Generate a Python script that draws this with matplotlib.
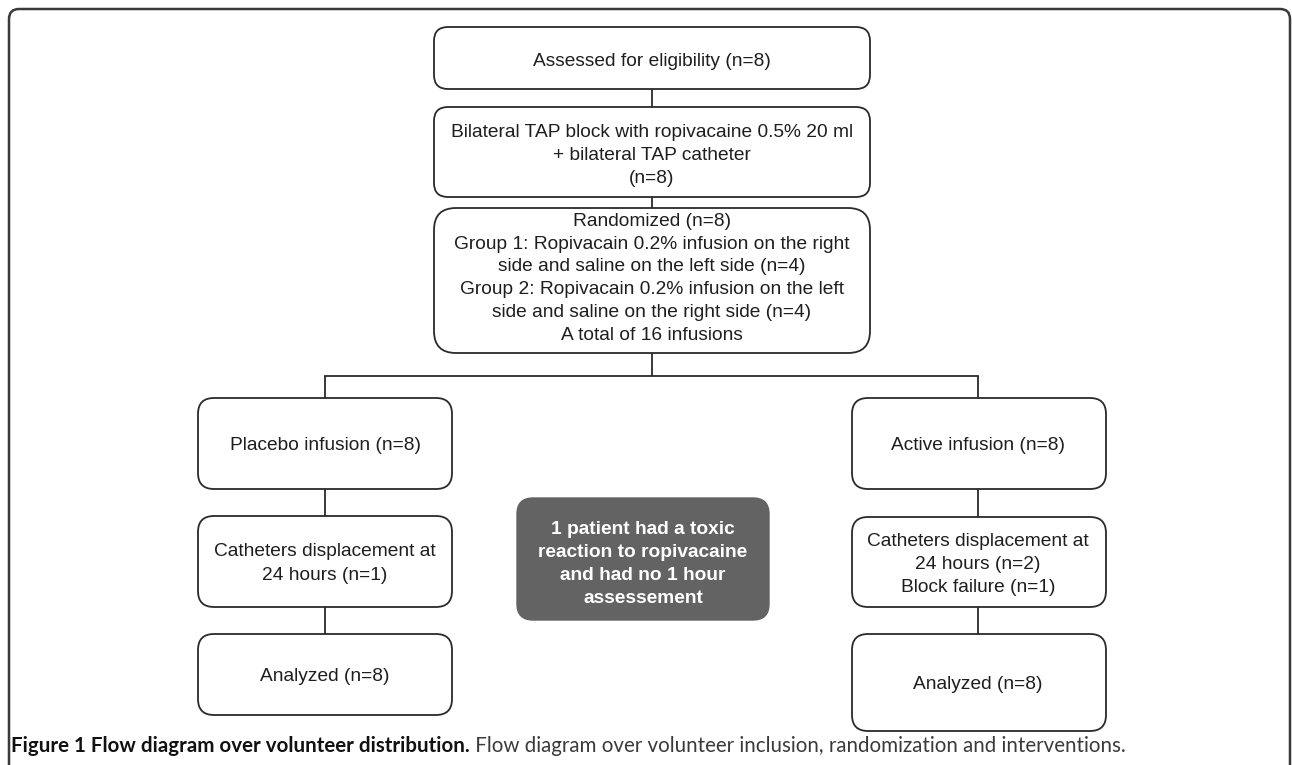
import matplotlib
matplotlib.use("Agg")
import matplotlib.pyplot as plt
from matplotlib.patches import FancyBboxPatch

# ---- content ----
box_top = ["Assessed for eligibility (n=8)"]
box_tap = ["Bilateral TAP block with ropivacaine 0.5% 20 ml", "+ bilateral TAP catheter", "(n=8)"]
box_rand = ["Randomized (n=8)",
            "Group 1: Ropivacain 0.2% infusion on the right",
            "side and saline on the left side (n=4)",
            "Group 2: Ropivacain 0.2% infusion on the left",
            "side and saline on the right side (n=4)",
            "A total of 16 infusions"]
left_texts = [["Placebo infusion (n=8)"],
              ["Catheters displacement at", "24 hours (n=1)"],
              ["Analyzed (n=8)"]]
right_texts = [["Active infusion (n=8)"],
               ["Catheters displacement at", "24 hours (n=2)", "Block failure (n=1)"],
               ["Analyzed (n=8)"]]
note_text = ["1 patient had a toxic", "reaction to ropivacaine", "and had no 1 hour", "assessement"]
caption_bold = "Figure 1 Flow diagram over volunteer distribution."
caption_regular = " Flow diagram over volunteer inclusion, randomization and interventions."

# ---- layout (pixels, y downward) ----
W, H = 1292, 765
fig = plt.figure(figsize=(W / 100, H / 100), dpi=100)
ax = fig.add_axes([0, 0, 1, 1])
ax.set_xlim(0, W)
ax.set_ylim(H, 0)
ax.axis("off")

EC = "#2a2a2a"
TC = "#1e1e1e"
FS = 13.75
FPX = FS * 100 / 72
FONT = "Liberation Sans"
LS = 22.8


def rbox(x0, y0, x1, y1, r=14, fc="white", ec=EC, lw=1.3):
    p = FancyBboxPatch((x0, y0), x1 - x0, y1 - y0,
                       boxstyle=f"round,pad=0,rounding_size={r}",
                       fc=fc, ec=ec, lw=lw, zorder=2)
    ax.add_patch(p)


def mtext(x, yc, lines, spacing=LS, **kw):
    d = dict(ha="center", va="baseline", fontsize=FS, color=TC, family=FONT, zorder=3)
    d.update(kw)
    n = len(lines)
    cap = 0.716 * FPX / 2
    for i, s in enumerate(lines):
        ax.text(x, yc + (i - (n - 1) / 2) * spacing + cap, s, **d)


def vline(x, y0, y1):
    ax.plot([x, x], [y0, y1], color=EC, lw=1.3, zorder=1, solid_capstyle="butt")


# outer frame (bottom open, off canvas)
ax.add_patch(FancyBboxPatch((9, 9), 1281, 900, boxstyle="round,pad=0,rounding_size=10",
                            fc="none", ec="#3a3a3a", lw=1.8, zorder=1, clip_on=False))

cx = 652
rbox(434, 27, 870, 89)
mtext(cx, 59, box_top)
vline(cx, 89, 107)
rbox(434, 107, 870, 197)
mtext(cx, 153, box_tap)
vline(cx, 197, 208)
rbox(434, 208, 870, 353, r=22)
mtext(cx, 276, box_rand)
vline(cx, 353, 376)

lx, rx = 325, 978
ax.plot([lx, rx], [376, 376], color=EC, lw=1.3, zorder=1)
vline(lx, 376, 398)
vline(rx, 376, 398)

left_rows = [(398, 489), (516, 607), (634, 715)]
right_rows = [(398, 489), (517, 607), (634, 731)]
for (y0, y1), s in zip(left_rows, left_texts):
    rbox(198, y0, 452, y1, r=16)
    mtext(lx, (y0 + y1) / 2, s, spacing=24)
for (y0, y1), s in zip(right_rows, right_texts):
    rbox(852, y0, 1106, y1, r=16)
    mtext(rx, (y0 + y1) / 2, s)
for (a, b), (c, d) in zip(left_rows[:-1], left_rows[1:]):
    vline(lx, b, c)
for (a, b), (c, d) in zip(right_rows[:-1], right_rows[1:]):
    vline(rx, b, c)

# dark note box
rbox(517, 498, 769, 620, r=16, fc="#636363", ec="#636363", lw=1.0)
mtext(643, 562, note_text, spacing=23, color="white", fontweight="bold")

# caption, sized to span the reference width
target_x0, target_x1, cy = 11, 1127, 746
fig.canvas.draw()
r = fig.canvas.get_renderer()
fs = 12.6
t1 = ax.text(target_x0, cy, caption_bold, ha="left", va="center", fontsize=fs,
             fontweight="bold", family="Lato", color="#111111")
t2 = ax.text(0, cy, caption_regular, ha="left", va="center", fontsize=fs,
             family="Lato", color="#3a3a3a")
w = t1.get_window_extent(renderer=r).width + t2.get_window_extent(renderer=r).width
fs = fs * (target_x1 - target_x0) / w
t1.set_fontsize(fs)
t2.set_fontsize(fs)
b1 = t1.get_window_extent(renderer=r)
t2.set_x(b1.x1)

fig.savefig("out.png", dpi=100)
